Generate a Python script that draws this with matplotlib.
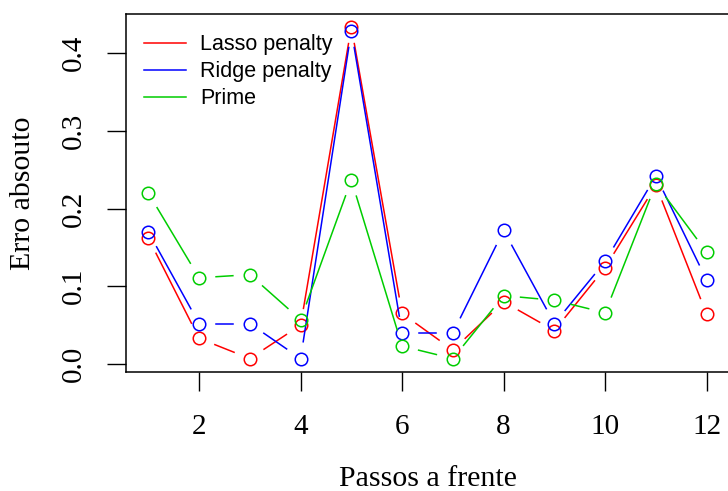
import numpy as np
import matplotlib.pyplot as plt
from matplotlib.lines import Line2D

passos = np.arange(1, 13)
lasso = [0.162, 0.033, 0.007, 0.050, 0.434, 0.065, 0.018, 0.080, 0.043, 0.124, 0.230, 0.064]
ridge = [0.170, 0.052, 0.052, 0.007, 0.429, 0.040, 0.040, 0.172, 0.052, 0.132, 0.242, 0.108]
prime = [0.220, 0.111, 0.115, 0.057, 0.237, 0.023, 0.007, 0.088, 0.082, 0.066, 0.232, 0.144]

nomes = ['Lasso penalty', 'Ridge penalty', 'Prime']
cores = ['#FF0000', '#0000FF', '#00CD00']

fig = plt.figure(figsize=(7.28, 4.91), dpi=100)
ax = fig.add_axes([126 / 728, 1 - 372 / 491, 603 / 728, 358 / 491])
ax.set_xlim(0.56, 12.44)
ax.set_ylim(-0.0103, 0.4505)


def linha_com_gap(ax, x, y, cor, gap=17):
    # igual ao type="b" do R: segmentos com espaco em volta dos pontos
    pts = ax.transData.transform(np.column_stack([x, y]))
    inv = ax.transData.inverted()
    for p0, p1 in zip(pts[:-1], pts[1:]):
        d = p1 - p0
        n = np.hypot(*d)
        if n <= 2 * gap:
            continue
        u = d / n
        a = inv.transform(p0 + u * gap)
        b = inv.transform(p1 - u * gap)
        ax.plot([a[0], b[0]], [a[1], b[1]], color=cor, lw=1.1)


for serie, cor in zip([lasso, ridge, prime], cores):
    linha_com_gap(ax, passos, serie, cor)
    ax.plot(passos, serie, 'o', mfc='none', mec=cor, ms=9, mew=1.1)

ax.set_xticks([2, 4, 6, 8, 10, 12])
ax.set_yticks([0.0, 0.1, 0.2, 0.3, 0.4])
ax.set_yticklabels(['0.0', '0.1', '0.2', '0.3', '0.4'], rotation=90, va='center')
ax.tick_params(length=13.5, width=1, labelsize=21)
ax.tick_params(axis='x', pad=17)
ax.tick_params(axis='y', pad=15)
for lab in ax.get_xticklabels() + ax.get_yticklabels():
    lab.set_family('Liberation Serif')
for s in ax.spines.values():
    s.set_linewidth(1.1)

ax.set_xlabel('Passos a frente', family='Liberation Serif', fontsize=21.5, va='baseline')
ax.set_ylabel('Erro absouto', family='Liberation Serif', fontsize=21.5, ha='center', va='center')
ax.xaxis.set_label_coords(0.5, -0.318)
ax.yaxis.set_label_coords(-0.171, 0.5)

handles = [Line2D([], [], color=c, lw=1.1) for c in cores]
ax.legend(handles, nomes, loc='upper left', frameon=False,
          prop={'family': 'Liberation Sans', 'size': 15.5},
          handlelength=1.95, handletextpad=0.65, labelspacing=0.28,
          borderpad=0, borderaxespad=0, bbox_to_anchor=(0.030, 0.944))

fig.savefig('out.png', dpi=100)
